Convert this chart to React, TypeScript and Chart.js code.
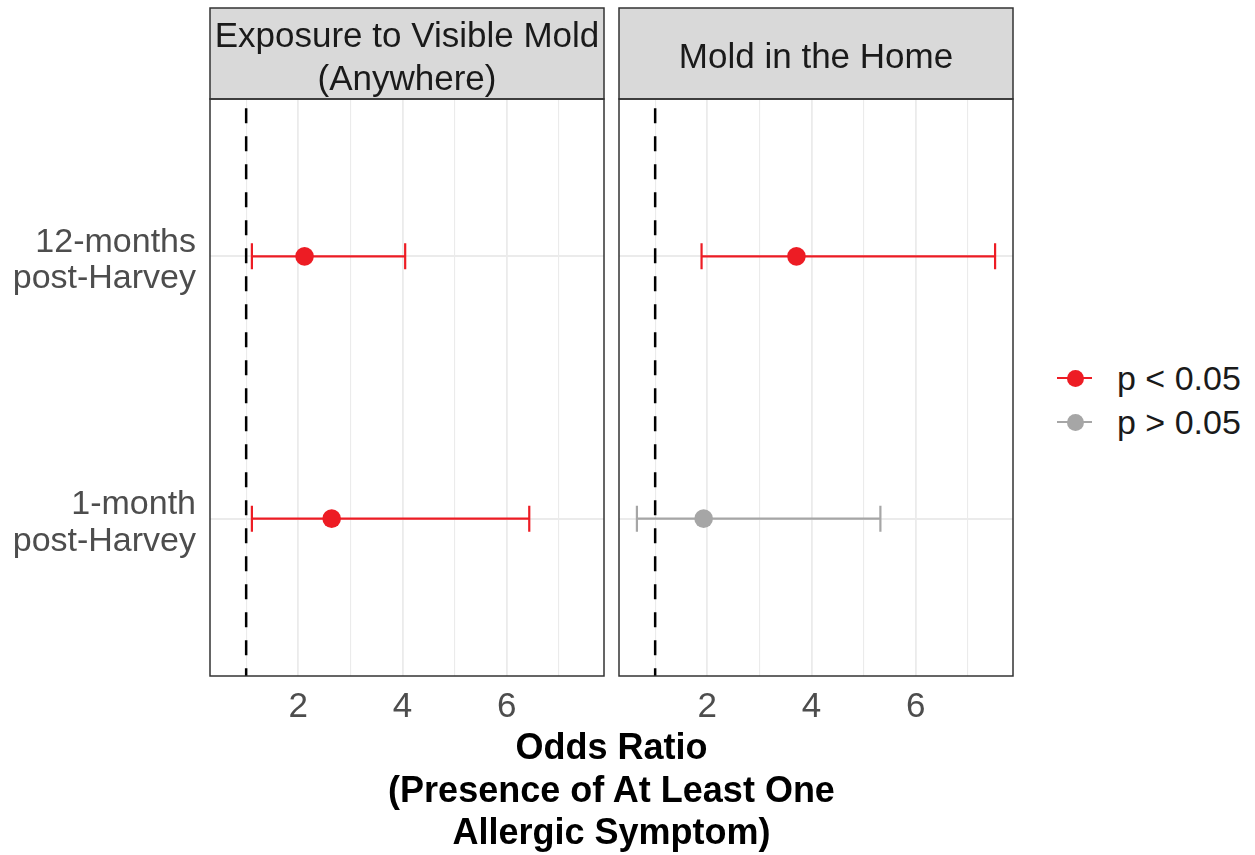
import React, { useEffect, useRef } from "react";
import { Chart, registerables } from "chart.js";

Chart.register(...registerables);

// ---- data ----
const timepointLabels = [["12-months", "post-Harvey"], ["1-month", "post-Harvey"]];
const timepointPos = [2, 1];
const facetTitles = [["Exposure to Visible Mold", "(Anywhere)"], ["Mold in the Home"]];

const anywhereOR = [2.12, 2.64];
const anywhereLower = [1.11, 1.11];
const anywhereUpper = [4.05, 6.43];
const anywhereSig = [true, true];

const homeOR = [3.71, 1.93];
const homeLower = [1.89, 0.65];
const homeUpper = [7.52, 5.32];
const homeSig = [true, false];

const xTickValues = [1, 2, 3, 4, 5, 6, 7];
const xTickLabels = ["", "2", "", "4", "", "6", ""];
const referenceLine = 1;
const legendLabels = ["p < 0.05", "p > 0.05"];
const xTitleLines = ["Odds Ratio", "(Presence of At Least One", "Allergic Symptom)"];

// ---- style ----
const RED = "#ED1C24";
const GRAY = "#A6A6A6";
const FONT = '"Liberation Sans", Arial, sans-serif';

const allVals = [...anywhereLower, ...anywhereUpper, ...homeLower, ...homeUpper];
const dMin = Math.min(...allVals);
const dMax = Math.max(...allVals);
const X_MIN = dMin - 0.05 * (dMax - dMin);
const X_MAX = dMax + 0.05 * (dMax - dMin);
const Y_MIN = 1 - 0.6;
const Y_MAX = 2 + 0.6;

function facetPlugin(lower: number[], upper: number[], sig: boolean[], title: string[], titleSize: number) {
  return {
    id: "facet",
    beforeDatasetsDraw(chart: any) {
      const { ctx, chartArea: a, scales } = chart;
      const xs = scales.x;
      const ys = scales.y;
      ctx.save();
      lower.forEach((lo, i) => {
        const y = ys.getPixelForValue(timepointPos[i]);
        const x1 = xs.getPixelForValue(lo);
        const x2 = xs.getPixelForValue(upper[i]);
        ctx.strokeStyle = sig[i] ? RED : GRAY;
        ctx.lineWidth = 2.2;
        ctx.beginPath();
        ctx.moveTo(x1, y);
        ctx.lineTo(x2, y);
        ctx.moveTo(x1, y - 13);
        ctx.lineTo(x1, y + 13);
        ctx.moveTo(x2, y - 13);
        ctx.lineTo(x2, y + 13);
        ctx.stroke();
      });
      const rx = xs.getPixelForValue(referenceLine);
      ctx.setLineDash([15, 13]);
      ctx.lineDashOffset = 18.7;
      ctx.lineWidth = 2.5;
      ctx.strokeStyle = "#000";
      ctx.beginPath();
      ctx.moveTo(rx, a.top);
      ctx.lineTo(rx, a.bottom);
      ctx.stroke();
      ctx.restore();
    },
    afterDraw(chart: any) {
      const { ctx, chartArea: a } = chart;
      ctx.save();
      const sTop = 8;
      const sBot = a.top;
      ctx.fillStyle = "#D9D9D9";
      ctx.fillRect(a.left, sTop, a.right - a.left, sBot - sTop);
      ctx.strokeStyle = "#333333";
      ctx.lineWidth = 1.5;
      ctx.strokeRect(a.left, sTop, a.right - a.left, sBot - sTop);
      ctx.fillStyle = "#1A1A1A";
      ctx.font = `${titleSize}px ${FONT}`;
      ctx.textAlign = "center";
      ctx.textBaseline = "alphabetic";
      const cx = (a.left + a.right) / 2;
      const cy = (sTop + sBot) / 2;
      const lh = 43;
      title.forEach((t, i) => {
        const y = cy + (i - (title.length - 1) / 2) * lh + 14.5;
        ctx.fillText(t, cx, y);
      });
      ctx.strokeRect(a.left, a.top, a.right - a.left, a.bottom - a.top);
      ctx.restore();
    },
  };
}

function makeChart(
  canvas: HTMLCanvasElement,
  or: number[],
  lower: number[],
  upper: number[],
  sig: boolean[],
  title: string[],
  showY: boolean,
  yWidth: number,
  padRight: number
) {
  return new Chart(canvas, {
    type: "scatter",
    data: {
      datasets: [
        {
          data: or.map((v, i) => ({ x: v, y: timepointPos[i] })),
          backgroundColor: sig.map((s) => (s ? RED : GRAY)),
          pointRadius: 9.3,
          pointHoverRadius: 9.3,
          borderWidth: 0,
        },
      ],
    },
    options: {
      animation: false,
      responsive: false,
      events: [],
      layout: { autoPadding: false, padding: { top: 99, right: padRight, left: 0, bottom: 0 } },
      plugins: { legend: { display: false }, tooltip: { enabled: false } },
      scales: {
        x: {
          type: "linear",
          min: X_MIN,
          max: X_MAX,
          afterBuildTicks: (s: any) => {
            s.ticks = xTickValues.map((v) => ({ value: v }));
          },
          afterFit: (s: any) => {
            s.height = 64;
            s.paddingLeft = 0;
            s.paddingRight = 0;
          },
          border: { display: false },
          grid: {
            drawTicks: false,
            color: "#EBEBEB",
            lineWidth: (c: any) => (c.tick && c.tick.value % 2 === 0 ? 1.8 : 1.1),
          },
          ticks: {
            autoSkip: false,
            maxRotation: 0,
            padding: 10,
            color: "#4D4D4D",
            font: { family: FONT, size: 35 },
            callback: (_v: any, idx: number) => xTickLabels[idx],
          },
        },
        y: {
          type: "linear",
          min: Y_MIN,
          max: Y_MAX,
          afterBuildTicks: (s: any) => {
            s.ticks = timepointPos.map((v) => ({ value: v }));
          },
          afterFit: (s: any) => {
            s.width = yWidth;
            s.paddingTop = 0;
            s.paddingBottom = 0;
          },
          border: { display: false },
          grid: { drawTicks: false, color: "#EBEBEB", lineWidth: 2 },
          ticks: {
            display: showY,
            padding: 14,
            labelOffset: 4.5,
            color: "#4D4D4D",
            font: { family: FONT, size: 34, lineHeight: 1.07 },
            callback: (_v: any, idx: number) => (showY ? timepointLabels[idx] : ""),
          },
        },
      },
    },
    plugins: [facetPlugin(lower, upper, sig, title, 35)],
  } as any);
}

export default function App() {
  const refA = useRef<HTMLCanvasElement>(null);
  const refB = useRef<HTMLCanvasElement>(null);

  useEffect(() => {
    const a = makeChart(refA.current!, anywhereOR, anywhereLower, anywhereUpper, anywhereSig, facetTitles[0], true, 210, 6);
    const b = makeChart(refB.current!, homeOR, homeLower, homeUpper, homeSig, facetTitles[1], false, 9, 7);
    return () => {
      a.destroy();
      b.destroy();
    };
  }, []);

  const legendColors = [RED, GRAY];
  const legendY = [378, 422];

  return (
    <div style={{ position: "absolute", left: 0, top: 0, width: 1255, height: 855, background: "#fff", fontFamily: FONT }}>
      <canvas ref={refA} width={610} height={740} style={{ position: "absolute", left: 0, top: 0, width: 610, height: 740 }} />
      <canvas ref={refB} width={410} height={740} style={{ position: "absolute", left: 610, top: 0, width: 410, height: 740 }} />
      <div
        style={{
          position: "absolute",
          left: 210,
          width: 803,
          top: 726,
          textAlign: "center",
          fontWeight: "bold",
          fontSize: 36,
          lineHeight: "42.5px",
          color: "#000",
        }}
      >
        {xTitleLines.map((t) => (
          <div key={t}>{t}</div>
        ))}
      </div>
      {legendLabels.map((l, i) => (
        <div key={l}>
          <div style={{ position: "absolute", left: 1057, top: legendY[i] - 1.1, width: 35, height: 2.2, background: legendColors[i] }} />
          <div
            style={{
              position: "absolute",
              left: 1075 - 8.5,
              top: legendY[i] - 8.5,
              width: 17,
              height: 17,
              borderRadius: "50%",
              background: legendColors[i],
            }}
          />
          <div
            style={{
              position: "absolute",
              left: 1117,
              top: legendY[i] - 19.6,
              fontSize: 34,
              lineHeight: "40px",
              color: "#1A1A1A",
              whiteSpace: "nowrap",
            }}
          >
            {l}
          </div>
        </div>
      ))}
    </div>
  );
}
